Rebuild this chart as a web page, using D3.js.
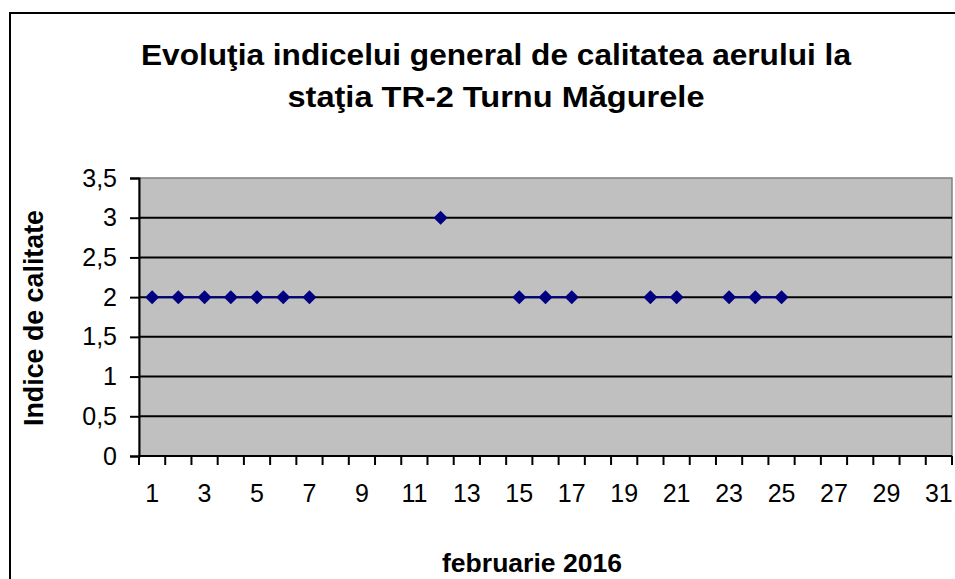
<!DOCTYPE html>
<html>
<head>
<meta charset="utf-8">
<script src="https://cdn.jsdelivr.net/npm/d3@7"></script>
<style>
  body { margin: 0; background: #fff; }
  svg text { font-family: "Liberation Sans", Arial, sans-serif; }
</style>
</head>
<body>
<svg id="chart" width="955" height="579"></svg>
<script>
// days of february 2016 that have a measurement, and the index value
const days = [1, 2, 3, 4, 5, 6, 7, 12, 15, 16, 17, 20, 21, 23, 24, 25];
const values = [2, 2, 2, 2, 2, 2, 2, 3, 2, 2, 2, 2, 2, 2, 2, 2];
const categories = d3.range(1, 32);
const yTicks = [0, 0.5, 1, 1.5, 2, 2.5, 3, 3.5];
const titleLines = ["Evoluţia indicelui general de calitatea aerului la", "staţia TR-2 Turnu Măgurele"];

const svg = d3.select('#chart');

// outer frame (runs off the right and bottom of the picture)
svg.append('rect')
  .attr('x', 10).attr('y', 13).attr('width', 1000).attr('height', 700)
  .attr('fill', 'none').attr('stroke', '#000').attr('stroke-width', 2);

const pLeft = 139, pRight = 952, pTop = 178, pBottom = 456;

const x = d3.scaleBand().domain(categories).range([pLeft, pRight]);
const y = d3.scaleLinear().domain([0, 3.5]).range([pBottom, pTop]);

// plot area
svg.append('rect')
  .attr('x', pLeft).attr('y', pTop).attr('width', pRight - pLeft).attr('height', pBottom - pTop)
  .attr('fill', '#c0c0c0').attr('stroke', '#808080').attr('stroke-width', 1.5);

// gridlines
svg.selectAll('line.grid')
  .data(yTicks.filter(d => d > 0 && d < 3.5))
  .join('line')
  .attr('class', 'grid')
  .attr('x1', pLeft).attr('x2', pRight)
  .attr('y1', d => y(d)).attr('y2', d => y(d))
  .attr('stroke', '#000').attr('stroke-width', 2);

// y axis
const yAxis = svg.append('g')
  .attr('transform', `translate(${pLeft},0)`)
  .call(d3.axisLeft(y).tickValues(yTicks).tickSize(9).tickPadding(13)
    .tickFormat(d => String(d).replace('.', ',')));
yAxis.selectAll('path, line').attr('stroke', '#000').attr('stroke-width', 2);
yAxis.selectAll('text').attr('font-size', 25).attr('fill', '#000')
  .style('font-family', '"Liberation Sans", Arial, sans-serif');

// x axis: ticks sit between categories, labels on every other day
const xAxis = svg.append('g')
  .attr('transform', `translate(0,${pBottom})`);
xAxis.append('line')
  .attr('x1', pLeft).attr('x2', pRight).attr('y1', 0).attr('y2', 0)
  .attr('stroke', '#000').attr('stroke-width', 2);
xAxis.selectAll('line.tick')
  .data(categories.concat([32]))
  .join('line')
  .attr('class', 'tick')
  .attr('x1', d => d <= 31 ? x(d) : pRight)
  .attr('x2', d => d <= 31 ? x(d) : pRight)
  .attr('y1', 0).attr('y2', 9)
  .attr('stroke', '#000').attr('stroke-width', 2);
xAxis.selectAll('text')
  .data(categories.filter(d => d % 2 === 1))
  .join('text')
  .attr('x', d => x(d) + x.bandwidth() / 2)
  .attr('y', 28)
  .attr('dy', '0.71em')
  .attr('text-anchor', 'middle')
  .attr('font-size', 25)
  .text(d => d);

// line segments only between consecutive days
const pts = days.map((d, i) => ({ day: d, value: values[i] }));
const segs = [];
pts.forEach((p, i) => {
  if (i > 0 && p.day === pts[i - 1].day + 1) segs[segs.length - 1].push(p);
  else segs.push([p]);
});
const line = d3.line()
  .x(d => x(d.day) + x.bandwidth() / 2)
  .y(d => y(d.value));
svg.selectAll('path.series')
  .data(segs)
  .join('path')
  .attr('class', 'series')
  .attr('d', line)
  .attr('fill', 'none')
  .attr('stroke', '#000080')
  .attr('stroke-width', 2);

svg.selectAll('path.marker')
  .data(pts)
  .join('path')
  .attr('class', 'marker')
  .attr('d', 'M0,-7L7,0L0,7L-7,0Z')
  .attr('transform', d => `translate(${x(d.day) + x.bandwidth() / 2},${y(d.value)})`)
  .attr('fill', '#000080');

// titles
const titleWidths = [710, 417];
svg.selectAll('text.title')
  .data(titleLines)
  .join('text')
  .attr('class', 'title')
  .attr('x', 496)
  .attr('y', (d, i) => 65 + i * 42)
  .attr('text-anchor', 'middle')
  .attr('font-size', 30).attr('font-weight', 'bold')
  .attr('textLength', (d, i) => titleWidths[i])
  .attr('lengthAdjust', 'spacingAndGlyphs')
  .text(d => d);

svg.append('text')
  .attr('transform', 'translate(43,318) rotate(-90)')
  .attr('text-anchor', 'middle')
  .attr('font-size', 27).attr('font-weight', 'bold')
  .attr('textLength', 216)
  .attr('lengthAdjust', 'spacingAndGlyphs')
  .text('Indice de calitate');

svg.append('text')
  .attr('x', 532).attr('y', 572)
  .attr('text-anchor', 'middle')
  .attr('font-size', 25).attr('font-weight', 'bold')
  .attr('textLength', 180)
  .attr('lengthAdjust', 'spacingAndGlyphs')
  .text('februarie 2016');
</script>
</body>
</html>
